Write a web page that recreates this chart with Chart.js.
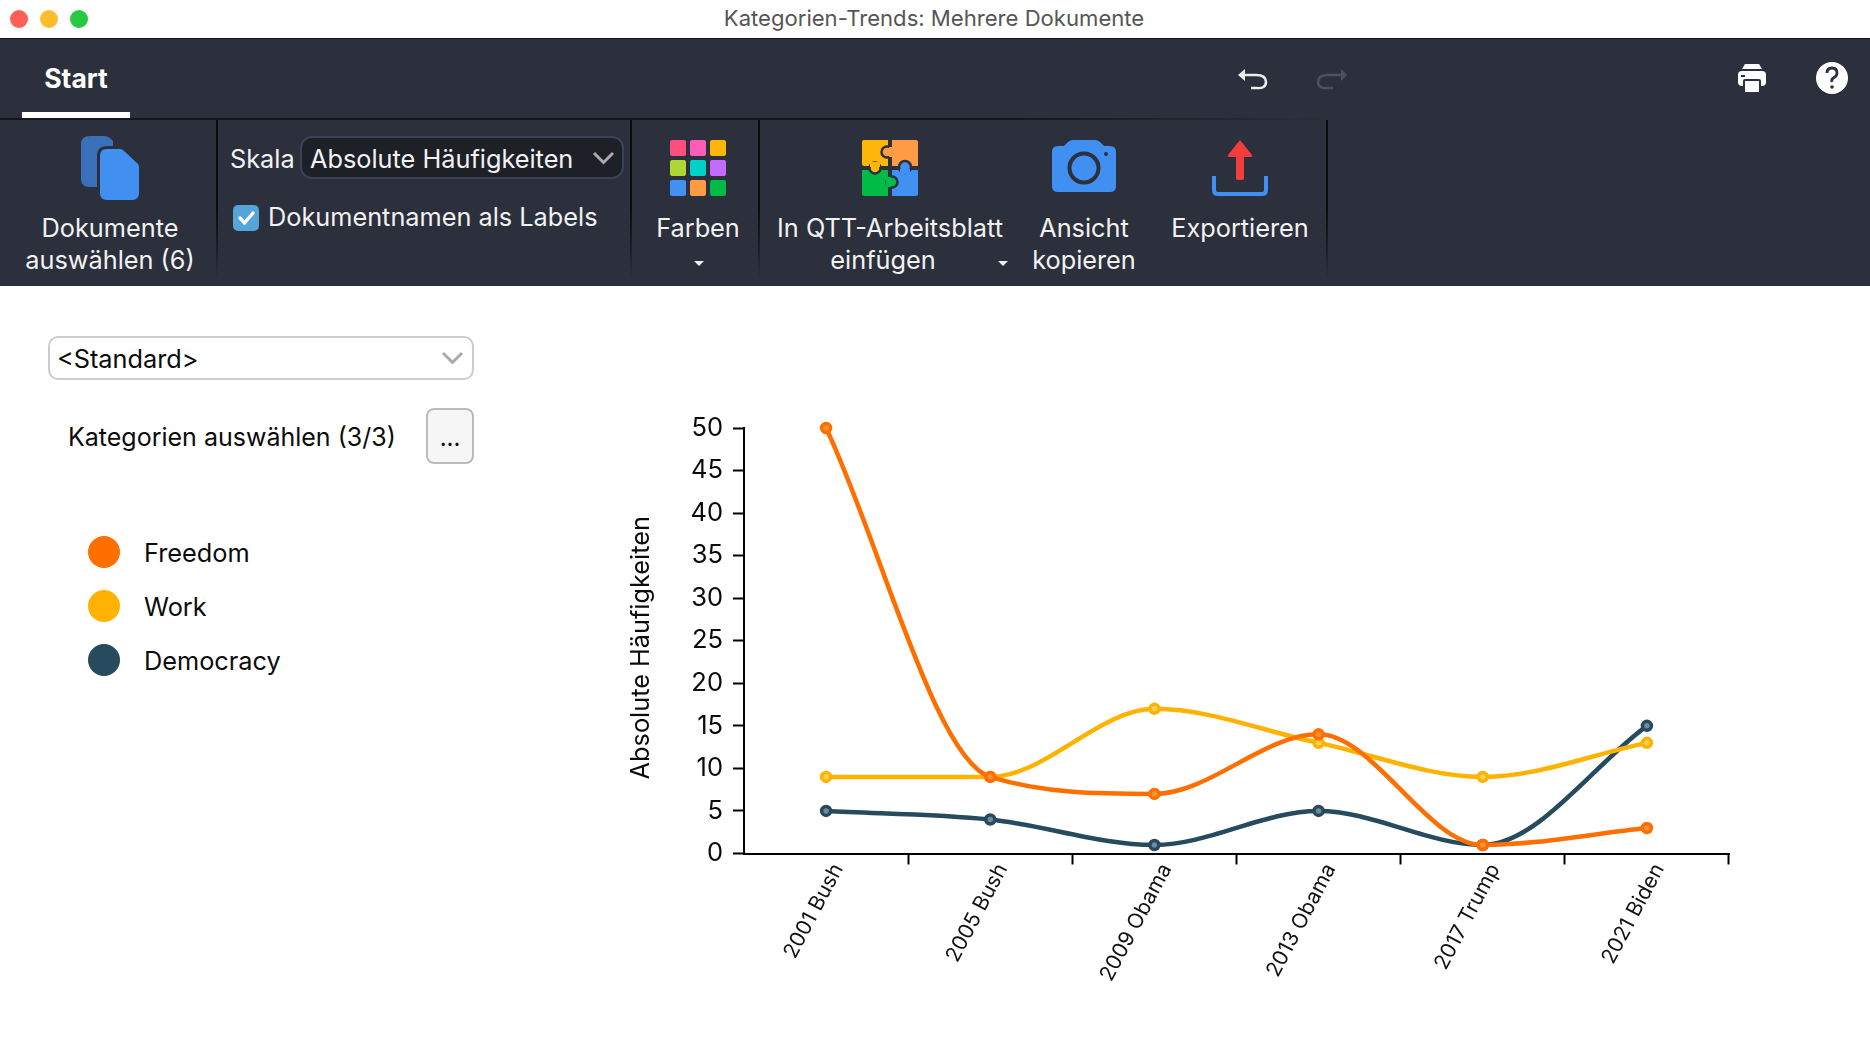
<!DOCTYPE html>
<html lang="de"><head><meta charset="utf-8"><title>Kategorien-Trends</title>
<script src="https://cdn.jsdelivr.net/npm/chart.js@4"></script>
<style>
html,body{margin:0;padding:0;background:#fff;width:1870px;height:1038px;overflow:hidden;font-family:Inter,"Noto Sans",sans-serif}
#bar{position:absolute;left:0;top:39px;width:1870px;height:247px;background:#2b303c}
#titlebar{position:absolute;left:0;top:0;width:1870px;height:38px;background:#fff;border-bottom:1px solid #15171c}
svg{position:absolute;left:0;top:0}
.t{position:absolute;white-space:nowrap;transform:translate(-50%,-50%);line-height:1}
.l{position:absolute;white-space:nowrap;transform:translateY(-50%);line-height:1}
.w{color:#f2f2f2;font-size:25.300px}
.k{color:#0b0b0b;font-size:25px}
.box{position:absolute;box-sizing:border-box}
#wrap{position:absolute;left:600px;top:400px;width:1270px;height:638px}
.dot{position:absolute;width:32px;height:32px;border-radius:50%;left:88px}
</style></head><body>
<div id="titlebar"></div><div id="bar"></div>
<svg width="1870" height="300" viewBox="0 0 1870 300">
<defs>
<linearGradient id="sep" x1="0" y1="0" x2="0" y2="1"><stop offset="0" stop-color="#0b0c10"/><stop offset=".55" stop-color="#0b0c10"/><stop offset="1" stop-color="#2b303c"/></linearGradient>
<linearGradient id="hor" x1="0" y1="0" x2="1" y2="0"><stop offset="0" stop-color="#14161b"/><stop offset=".75" stop-color="#14161b"/><stop offset="1" stop-color="#2b303c"/></linearGradient>
</defs>
<circle cx="19" cy="19" r="9" fill="#ff5f57"/><circle cx="49" cy="19" r="9" fill="#febc2e"/><circle cx="79" cy="19" r="9" fill="#28c840"/>
<rect x="0" y="118" width="1340" height="2" fill="url(#hor)"/>
<rect x="22" y="112" width="108" height="6" fill="#fff"/>
<rect x="216" y="120" width="2" height="162" fill="url(#sep)"/><rect x="630" y="120" width="2" height="162" fill="url(#sep)"/><rect x="758" y="120" width="2" height="162" fill="url(#sep)"/><rect x="1326" y="120" width="2" height="162" fill="url(#sep)"/>
<!-- documents icon -->
<path d="M90 136h14q5 0 9 5v46H90q-9 0-9-8v-35q0-8 9-8z" fill="#3a70b9"/>
<path d="M108 146h12l21 19v28q0 9-9 9h-24q-11 0-11-9v-38q0-9 11-9z" fill="#2b303c"/>
<path d="M107 149h13q2 0 4 2l13 12q2 2 2 4v26q0 7-7 7h-25q-7 0-7-7v-37q0-7 7-7z" fill="#4190f1"/>
<!-- checkbox -->
<rect x="233" y="205" width="26" height="26" rx="5" fill="#56a5d8"/>
<path d="M240 218l4.5 5 8.500-10" fill="none" stroke="#fff" stroke-width="3.400" stroke-linecap="round" stroke-linejoin="round"/>
<!-- palette -->
<g><rect x="670" y="140" width="16" height="16" rx="2" fill="#ff4f7b"/><rect x="690" y="140" width="16" height="16" rx="2" fill="#ff5cba"/><rect x="710" y="140" width="16" height="16" rx="2" fill="#ffb60a"/>
<rect x="670" y="160" width="16" height="16" rx="2" fill="#aed836"/><rect x="690" y="160" width="16" height="16" rx="2" fill="#00d2c8"/><rect x="710" y="160" width="16" height="16" rx="2" fill="#c46bff"/>
<rect x="670" y="180" width="16" height="16" rx="2" fill="#4191f2"/><rect x="690" y="180" width="16" height="16" rx="2" fill="#ff9a45"/><rect x="710" y="180" width="16" height="16" rx="2" fill="#00bb46"/></g>
<path d="M694 261h10l-5 5z" fill="#eee"/><path d="M998 261h10l-5 5z" fill="#eee"/>
<!-- puzzle -->
<g transform="translate(862 140)" stroke-width="2.500">
<path d="M2 0h24v26H2q-2 0-2-2V2q0-2 2-2z" fill="#ffb60a"/>
<path d="M30 0h24q2 0 2 2v24H30z" fill="#ff9a45"/>
<path d="M0 30h26v26H2q-2 0-2-2z" fill="#00bb46"/>
<path d="M30 30h26v24q0 2-2 2H30z" fill="#4191f2"/>
<circle cx="13" cy="28" r="5.500" fill="#ffb60a" stroke="#2b303c"/><rect x="8" y="22" width="10" height="5" fill="#ffb60a"/>
<circle cx="25" cy="12" r="5.500" fill="#ff9a45" stroke="#2b303c"/><rect x="27" y="7" width="5" height="10" fill="#ff9a45"/>
<circle cx="43" cy="27" r="6" fill="#4191f2" stroke="#2b303c"/><rect x="38" y="29" width="10" height="5" fill="#4191f2"/>
<circle cx="30" cy="42" r="5.500" fill="#00bb46" stroke="#2b303c"/><rect x="24" y="37" width="5" height="10" fill="#00bb46"/>
</g>
<!-- camera -->
<path d="M1064 146l4-4q2-2 5-2h22q3 0 5 2l4 4h6q6 0 6 6v34q0 6-6 6h-52q-6 0-6-6v-34q0-6 6-6z" fill="#4190f1"/>
<circle cx="1084" cy="168" r="14.500" fill="#4190f1" stroke="#2b303c" stroke-width="4"/><circle cx="1106" cy="154" r="2" fill="#2b303c"/>
<!-- export -->
<path d="M1240 140l12 15q1 2-2 2h-6v21q0 2-2 2h-4q-2 0-2-2v-21h-6q-3 0-2-2z" fill="#f23d3f"/>
<path d="M1214 176v14q0 4 4 4h44q4 0 4-4v-14" fill="none" stroke="#4190f1" stroke-width="4"/>
<!-- undo / redo -->
<path d="M1242 75h14q10 0 10 7t-10 6h-5" fill="none" stroke="#eee" stroke-width="2.500"/><path d="M1238 75l7-6v12z" fill="#eee"/>
<path d="M1343 75h-15q-10 0-10 7t10 6h5" fill="none" stroke="#4a5265" stroke-width="2.500"/><path d="M1347 75l-6-6v12z" fill="#4a5265"/>
<!-- printer -->
<path d="M1745 64h14l3 5h-20z" fill="#fff"/><rect x="1738" y="71" width="28" height="15" rx="4" fill="#fff"/><rect x="1744" y="80" width="16" height="13" rx="1" fill="#fff" stroke="#2b303c" stroke-width="2"/><rect x="1741" y="75" width="4" height="2" fill="#2b303c"/>
<!-- help -->
<circle cx="1832" cy="78" r="16" fill="#fff"/>
<path d="M1827 73q0-5 5-5t5 5q0 3-3 4.500t-2 4.500" fill="none" stroke="#2b303c" stroke-width="2.800"/><circle cx="1832" cy="87" r="1.800" fill="#2b303c"/>
</svg>
<div class="box" style="left:300px;top:136px;width:324px;height:43px;background:#1e2027;border:2px solid #3b4258;border-radius:12px"></div>
<svg width="1870" height="300" viewBox="0 0 1870 300"><path d="M594 153l9.500 9.500 9.500-9.500" fill="none" stroke="#aaa" stroke-width="3"/></svg>
<div class="t" style="left:934px;top:18px;font-size:22.100px;color:#555">Kategorien-Trends: Mehrere Dokumente</div>
<div class="t" style="left:76px;top:78px;font-size:26.500px;font-weight:700;color:#fff">Start</div>
<div class="t w" style="left:110px;top:228px">Dokumente</div><div class="t w" style="left:110px;top:260px">auswählen (6)</div>
<div class="l w" style="left:230px;top:159px">Skala</div><div class="l w" style="left:310px;top:159px">Absolute Häufigkeiten</div>
<div class="l w" style="left:268px;top:217px">Dokumentnamen als Labels</div>
<div class="t w" style="left:698px;top:228px">Farben</div>
<div class="t w" style="left:890px;top:228px">In QTT-Arbeitsblatt</div><div class="t w" style="left:883px;top:260px">einfügen</div>
<div class="t w" style="left:1084px;top:228px">Ansicht</div><div class="t w" style="left:1084px;top:260px">kopieren</div>
<div class="t w" style="left:1240px;top:228px">Exportieren</div>
<div class="box" style="left:48px;top:336px;width:426px;height:44px;border:2px solid #ccc;border-radius:10px"></div>
<svg width="1870" height="400" viewBox="0 0 1870 400"><path d="M443 353l9.500 9.500 9.500-9.500" fill="none" stroke="#aaa" stroke-width="3"/></svg>
<div class="l k" style="left:57px;top:359px;font-size:25.300px">&lt;Standard&gt;</div>
<div class="l k" style="left:68px;top:437px">Kategorien auswählen (3/3)</div>
<div class="box" style="left:426px;top:408px;width:48px;height:56px;background:#f6f6f6;border:2px solid #bbb;border-radius:8px"></div>
<div class="t k" style="left:450px;top:438px;font-size:24px">...</div>
<div id="legend"></div>
<div id="wrap"><canvas id="c" width="1270" height="638" style="width:1270px;height:638px"></canvas></div>
<script>
const categories = ["2001 Bush","2005 Bush","2009 Obama","2013 Obama","2017 Trump","2021 Biden"];
const freedom = [50,9,7,14,1,3];
const work = [9,9,17,13,9,13];
const democracy = [5,4,1,5,1,15];
const seriesNames = ["Freedom","Work","Democracy"];
const seriesColors = ["#ff6f00","#ffb300","#264a5e"];
const seriesTints = ["#ff8f33","#ffcf5c","#6f8a9b"];
const yTicks = [0,5,10,15,20,25,30,35,40,45,50];
const yTitle = "Absolute Häufigkeiten";

const legend = document.getElementById("legend");
seriesNames.forEach((n,i)=>{
  const y = 552 + i*54;
  legend.insertAdjacentHTML("beforeend",
    `<div class="dot" style="top:${y-16}px;background:${seriesColors[i]}"></div><div class="l k" style="left:144px;top:${y+1}px;font-size:25.300px">${n}</div>`);
});

const ds = (i,data)=>({label:seriesNames[i],data,borderColor:seriesColors[i],backgroundColor:seriesTints[i],
  pointBackgroundColor:seriesTints[i],pointBorderColor:seriesColors[i],pointRadius:4.5,pointBorderWidth:3.5,
  borderWidth:4.5,cubicInterpolationMode:"monotone",clip:false,fill:false});

new Chart(document.getElementById("c"),{
  type:"line",
  data:{labels:categories,datasets:[ds(0,freedom),ds(1,work),ds(2,democracy)]},
  options:{
    responsive:false,animation:false,devicePixelRatio:1,
    layout:{padding:{top:28,right:141,left:0,bottom:0}},
    plugins:{legend:{display:false},tooltip:{enabled:false},title:{display:false}},
    scales:{
      x:{offset:true,
        grid:{drawOnChartArea:false,drawTicks:true,tickLength:11,tickWidth:2,offset:true,
          tickColor:c=>c.index===0?"rgba(0,0,0,0)":"#000"},
        border:{color:"#000",width:2},
        ticks:{color:"#111",font:{family:"Inter",size:21},minRotation:62,maxRotation:62,autoSkip:false,padding:-5,labelOffset:12},
        afterFit(s){s.height=184.5;}},
      y:{min:0,max:50,
        afterBuildTicks(s){s.ticks=yTicks.map(v=>({value:v}));},
        grid:{drawOnChartArea:false,drawTicks:true,tickLength:11,tickWidth:2,tickColor:"#000"},
        border:{color:"#000",width:2},
        ticks:{color:"#0b0b0b",font:{family:"Inter",size:25.500},padding:10,stepSize:5},
        title:{display:true,text:yTitle,color:"#0b0b0b",font:{family:"Inter",size:25.300},padding:{top:24,bottom:0}},
        afterFit(s){
          s.width=144;
          if(!s.shiftedTitle){
            const drawTitle=s.drawTitle;
            s.drawTitle=function(){const c=this.ctx;c.save();c.translate(2,7);drawTitle.call(this);c.restore();};
            s.shiftedTitle=true;
          }
        }}
    }
  }
});
</script>
</body></html>
